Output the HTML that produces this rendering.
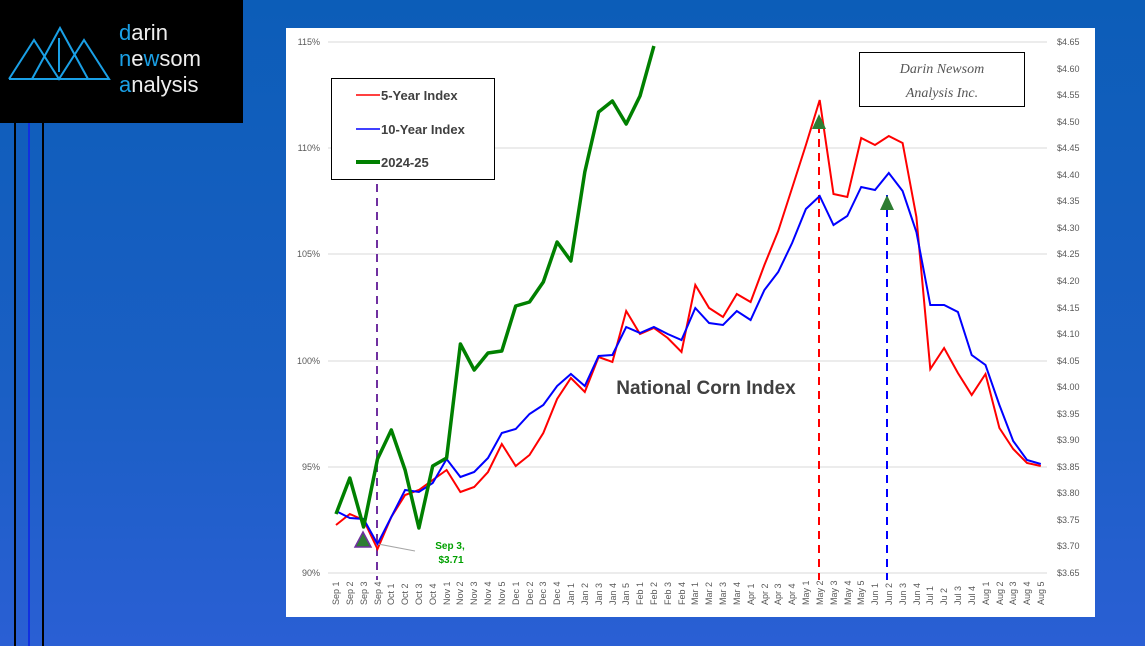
<!DOCTYPE html>
<html><head><meta charset="utf-8"><style>
body{margin:0;width:1145px;height:646px;overflow:hidden;background:linear-gradient(180deg,#0c5db8 0%,#1a5fc4 60%,#2a5fd4 100%);font-family:"Liberation Sans",sans-serif;position:relative}
.logo{position:absolute;left:0;top:0;width:243px;height:123px;background:#000}
.vl{position:absolute;top:123px;bottom:0;width:2px;background:#000}
.chart{position:absolute;left:286px;top:28px;width:809px;height:589px;background:#fff}
</style></head><body>
<div class="logo">
<svg width="243" height="123">
<g fill="none" stroke="#1aa0e6" stroke-width="2">
<polyline points="9,79 34,40 59,79 84,40 109,79 9,79"/>
<polyline points="32,79 60,28 88,79"/>
<line x1="59" y1="38" x2="59" y2="72"/>
</g>
<g font-size="22" fill="#eee" font-family="Liberation Sans,sans-serif">
<text x="119" y="40"><tspan fill="#1aa0e6">d</tspan>arin</text>
<text x="119" y="66"><tspan fill="#1aa0e6">n</tspan>e<tspan fill="#1aa0e6">w</tspan>som</text>
<text x="119" y="92"><tspan fill="#1aa0e6">a</tspan>nalysis</text>
</g></svg></div>
<div class="vl" style="left:14px"></div><div class="vl" style="left:28px;background:#1030e0"></div><div class="vl" style="left:42px"></div>
<div class="chart"></div>
<svg width="1145" height="646" style="position:absolute;left:0;top:0">
<g stroke="#d9d9d9" stroke-width="1">
<line x1="328" x2="1047" y1="42" y2="42"/><line x1="328" x2="1047" y1="148" y2="148"/><line x1="328" x2="1047" y1="254" y2="254"/><line x1="328" x2="1047" y1="361" y2="361"/><line x1="328" x2="1047" y1="467" y2="467"/><line x1="328" x2="1047" y1="573" y2="573"/>
</g>
<g font-size="9" fill="#595959" text-anchor="end">
<text x="320" y="45">115%</text><text x="320" y="151">110%</text><text x="320" y="257">105%</text><text x="320" y="364">100%</text><text x="320" y="470">95%</text><text x="320" y="576">90%</text>
</g>
<g font-size="9" fill="#595959">
<text x="1057" y="45">$4.65</text><text x="1057" y="72">$4.60</text><text x="1057" y="98">$4.55</text><text x="1057" y="125">$4.50</text><text x="1057" y="151">$4.45</text><text x="1057" y="178">$4.40</text><text x="1057" y="204">$4.35</text><text x="1057" y="231">$4.30</text><text x="1057" y="257">$4.25</text><text x="1057" y="284">$4.20</text><text x="1057" y="311">$4.15</text><text x="1057" y="337">$4.10</text><text x="1057" y="364">$4.05</text><text x="1057" y="390">$4.00</text><text x="1057" y="417">$3.95</text><text x="1057" y="443">$3.90</text><text x="1057" y="470">$3.85</text><text x="1057" y="496">$3.80</text><text x="1057" y="523">$3.75</text><text x="1057" y="549">$3.70</text><text x="1057" y="576">$3.65</text>
</g>
<g font-size="9" fill="#595959">
<text transform="translate(339,605) rotate(-90)">Sep 1</text><text transform="translate(353,605) rotate(-90)">Sep 2</text><text transform="translate(367,605) rotate(-90)">Sep 3</text><text transform="translate(381,605) rotate(-90)">Sep 4</text><text transform="translate(394,605) rotate(-90)">Oct 1</text><text transform="translate(408,605) rotate(-90)">Oct 2</text><text transform="translate(422,605) rotate(-90)">Oct 3</text><text transform="translate(436,605) rotate(-90)">Oct 4</text><text transform="translate(450,605) rotate(-90)">Nov 1</text><text transform="translate(463,605) rotate(-90)">Nov 2</text><text transform="translate(477,605) rotate(-90)">Nov 3</text><text transform="translate(491,605) rotate(-90)">Nov 4</text><text transform="translate(505,605) rotate(-90)">Nov 5</text><text transform="translate(519,605) rotate(-90)">Dec 1</text><text transform="translate(533,605) rotate(-90)">Dec 2</text><text transform="translate(546,605) rotate(-90)">Dec 3</text><text transform="translate(560,605) rotate(-90)">Dec 4</text><text transform="translate(574,605) rotate(-90)">Jan 1</text><text transform="translate(588,605) rotate(-90)">Jan 2</text><text transform="translate(602,605) rotate(-90)">Jan 3</text><text transform="translate(616,605) rotate(-90)">Jan 4</text><text transform="translate(629,605) rotate(-90)">Jan 5</text><text transform="translate(643,605) rotate(-90)">Feb 1</text><text transform="translate(657,605) rotate(-90)">Feb 2</text><text transform="translate(671,605) rotate(-90)">Feb 3</text><text transform="translate(685,605) rotate(-90)">Feb 4</text><text transform="translate(698,605) rotate(-90)">Mar 1</text><text transform="translate(712,605) rotate(-90)">Mar 2</text><text transform="translate(726,605) rotate(-90)">Mar 3</text><text transform="translate(740,605) rotate(-90)">Mar 4</text><text transform="translate(754,605) rotate(-90)">Apr 1</text><text transform="translate(768,605) rotate(-90)">Apr 2</text><text transform="translate(781,605) rotate(-90)">Apr 3</text><text transform="translate(795,605) rotate(-90)">Apr 4</text><text transform="translate(809,605) rotate(-90)">May 1</text><text transform="translate(823,605) rotate(-90)">May 2</text><text transform="translate(837,605) rotate(-90)">May 3</text><text transform="translate(851,605) rotate(-90)">May 4</text><text transform="translate(864,605) rotate(-90)">May 5</text><text transform="translate(878,605) rotate(-90)">Jun 1</text><text transform="translate(892,605) rotate(-90)">Jun 2</text><text transform="translate(906,605) rotate(-90)">Jun 3</text><text transform="translate(920,605) rotate(-90)">Jun 4</text><text transform="translate(933,605) rotate(-90)">Jul 1</text><text transform="translate(947,605) rotate(-90)">Ju 2</text><text transform="translate(961,605) rotate(-90)">Jul 3</text><text transform="translate(975,605) rotate(-90)">Jul 4</text><text transform="translate(989,605) rotate(-90)">Aug 1</text><text transform="translate(1003,605) rotate(-90)">Aug 2</text><text transform="translate(1016,605) rotate(-90)">Aug 3</text><text transform="translate(1030,605) rotate(-90)">Aug 4</text><text transform="translate(1044,605) rotate(-90)">Aug 5</text>
</g>
<g stroke-dasharray="8,6" stroke-width="2">
<line x1="377" y1="170" x2="377" y2="580" stroke="#7030a0"/>
<line x1="819" y1="125" x2="819" y2="580" stroke="#ff0000"/>
<line x1="887" y1="195" x2="887" y2="580" stroke="#0000ff"/>
</g>
<polyline fill="none" stroke="#ff0000" stroke-width="2" points="336,525 349.8,514 363.6,520 377.5,549 391.3,517 405.1,495 418.9,490 432.7,480 446.6,470 460.4,492 474.2,487 488,472 501.8,444 515.7,466 529.5,455 543.3,433 557.1,399 570.9,378 584.8,392 598.6,357 612.4,362 626.2,311 640,334 653.9,328 667.7,338 681.5,352 695.3,285 709.1,308 723,317 736.8,294 750.6,302 764.4,265 778.2,231 792.1,188 805.9,145 819.7,100 833.5,194 847.3,197 861.2,138 875,145 888.8,136 902.6,143 916.4,217 930.3,369 944.1,348 957.9,373 971.7,395 985.5,374 999.4,428 1013.2,449 1027,463 1040.8,466"/>
<polyline fill="none" stroke="#0000ff" stroke-width="2" points="336,511 349.8,518 363.6,519 377.5,544 391.3,517 405.1,490 418.9,492 432.7,483 446.6,459 460.4,477 474.2,472 488,458 501.8,433 515.7,429 529.5,414 543.3,405 557.1,386 570.9,374 584.8,386 598.6,356 612.4,355 626.2,327 640,333 653.9,327 667.7,334 681.5,340 695.3,308 709.1,323 723,325 736.8,311 750.6,320 764.4,290 778.2,272 792.1,243 805.9,209 819.7,196 833.5,225 847.3,216 861.2,187 875,190 888.8,173 902.6,191 916.4,232 930.3,305 944.1,305 957.9,312 971.7,355 985.5,365 999.4,405 1013.2,441 1027,460 1040.8,464"/>
<polyline fill="none" stroke="#008000" stroke-width="3.5" stroke-linejoin="round" points="336,514 349.8,478 363.6,527 377.5,459 391.3,430 405.1,470 418.9,528 432.7,466 446.6,458 460.4,344 474.2,370 488,353 501.8,351 515.7,306 529.5,302 543.3,282 557.1,242 570.9,261 584.8,172 598.6,112 612.4,101 626.2,124 640,96 653.9,46"/>
<polygon points="363,532 355,547 371,547" fill="#2e7d32" stroke="#7030a0" stroke-width="1.5"/>
<polygon points="819,114 812,129 826,129" fill="#2e7d32"/>
<polygon points="887,195 880,210 894,210" fill="#2e7d32"/>
<polyline fill="none" stroke="#a6a6a6" points="378,544 415,551"/>
<text x="450" y="549" font-size="10" font-weight="bold" fill="#00a000" text-anchor="middle">Sep 3,</text>
<text x="451" y="563" font-size="10" font-weight="bold" fill="#00a000" text-anchor="middle">$3.71</text>
<text x="706" y="394" font-size="19" font-weight="bold" fill="#404040" text-anchor="middle">National Corn Index</text>
<rect x="331.5" y="78.5" width="163" height="101" fill="#fff" stroke="#000"/>
<g font-size="13" font-weight="bold" fill="#404040">
<line x1="356" x2="380" y1="95" y2="95" stroke="#f00" stroke-width="1.5"/><text x="381" y="100">5-Year Index</text>
<line x1="356" x2="380" y1="129" y2="129" stroke="#00f" stroke-width="1.5"/><text x="381" y="134">10-Year Index</text>
<line x1="356" x2="380" y1="162" y2="162" stroke="#008000" stroke-width="4"/><text x="381" y="167">2024-25</text>
</g>
<rect x="859.5" y="52.5" width="165" height="54" fill="#fff" stroke="#000"/>
<g font-family="Liberation Serif,serif" font-style="italic" font-size="14" fill="#555" text-anchor="middle">
<text x="942" y="73">Darin Newsom</text><text x="942" y="97">Analysis Inc.</text>
</g>
</svg>
</body></html>
